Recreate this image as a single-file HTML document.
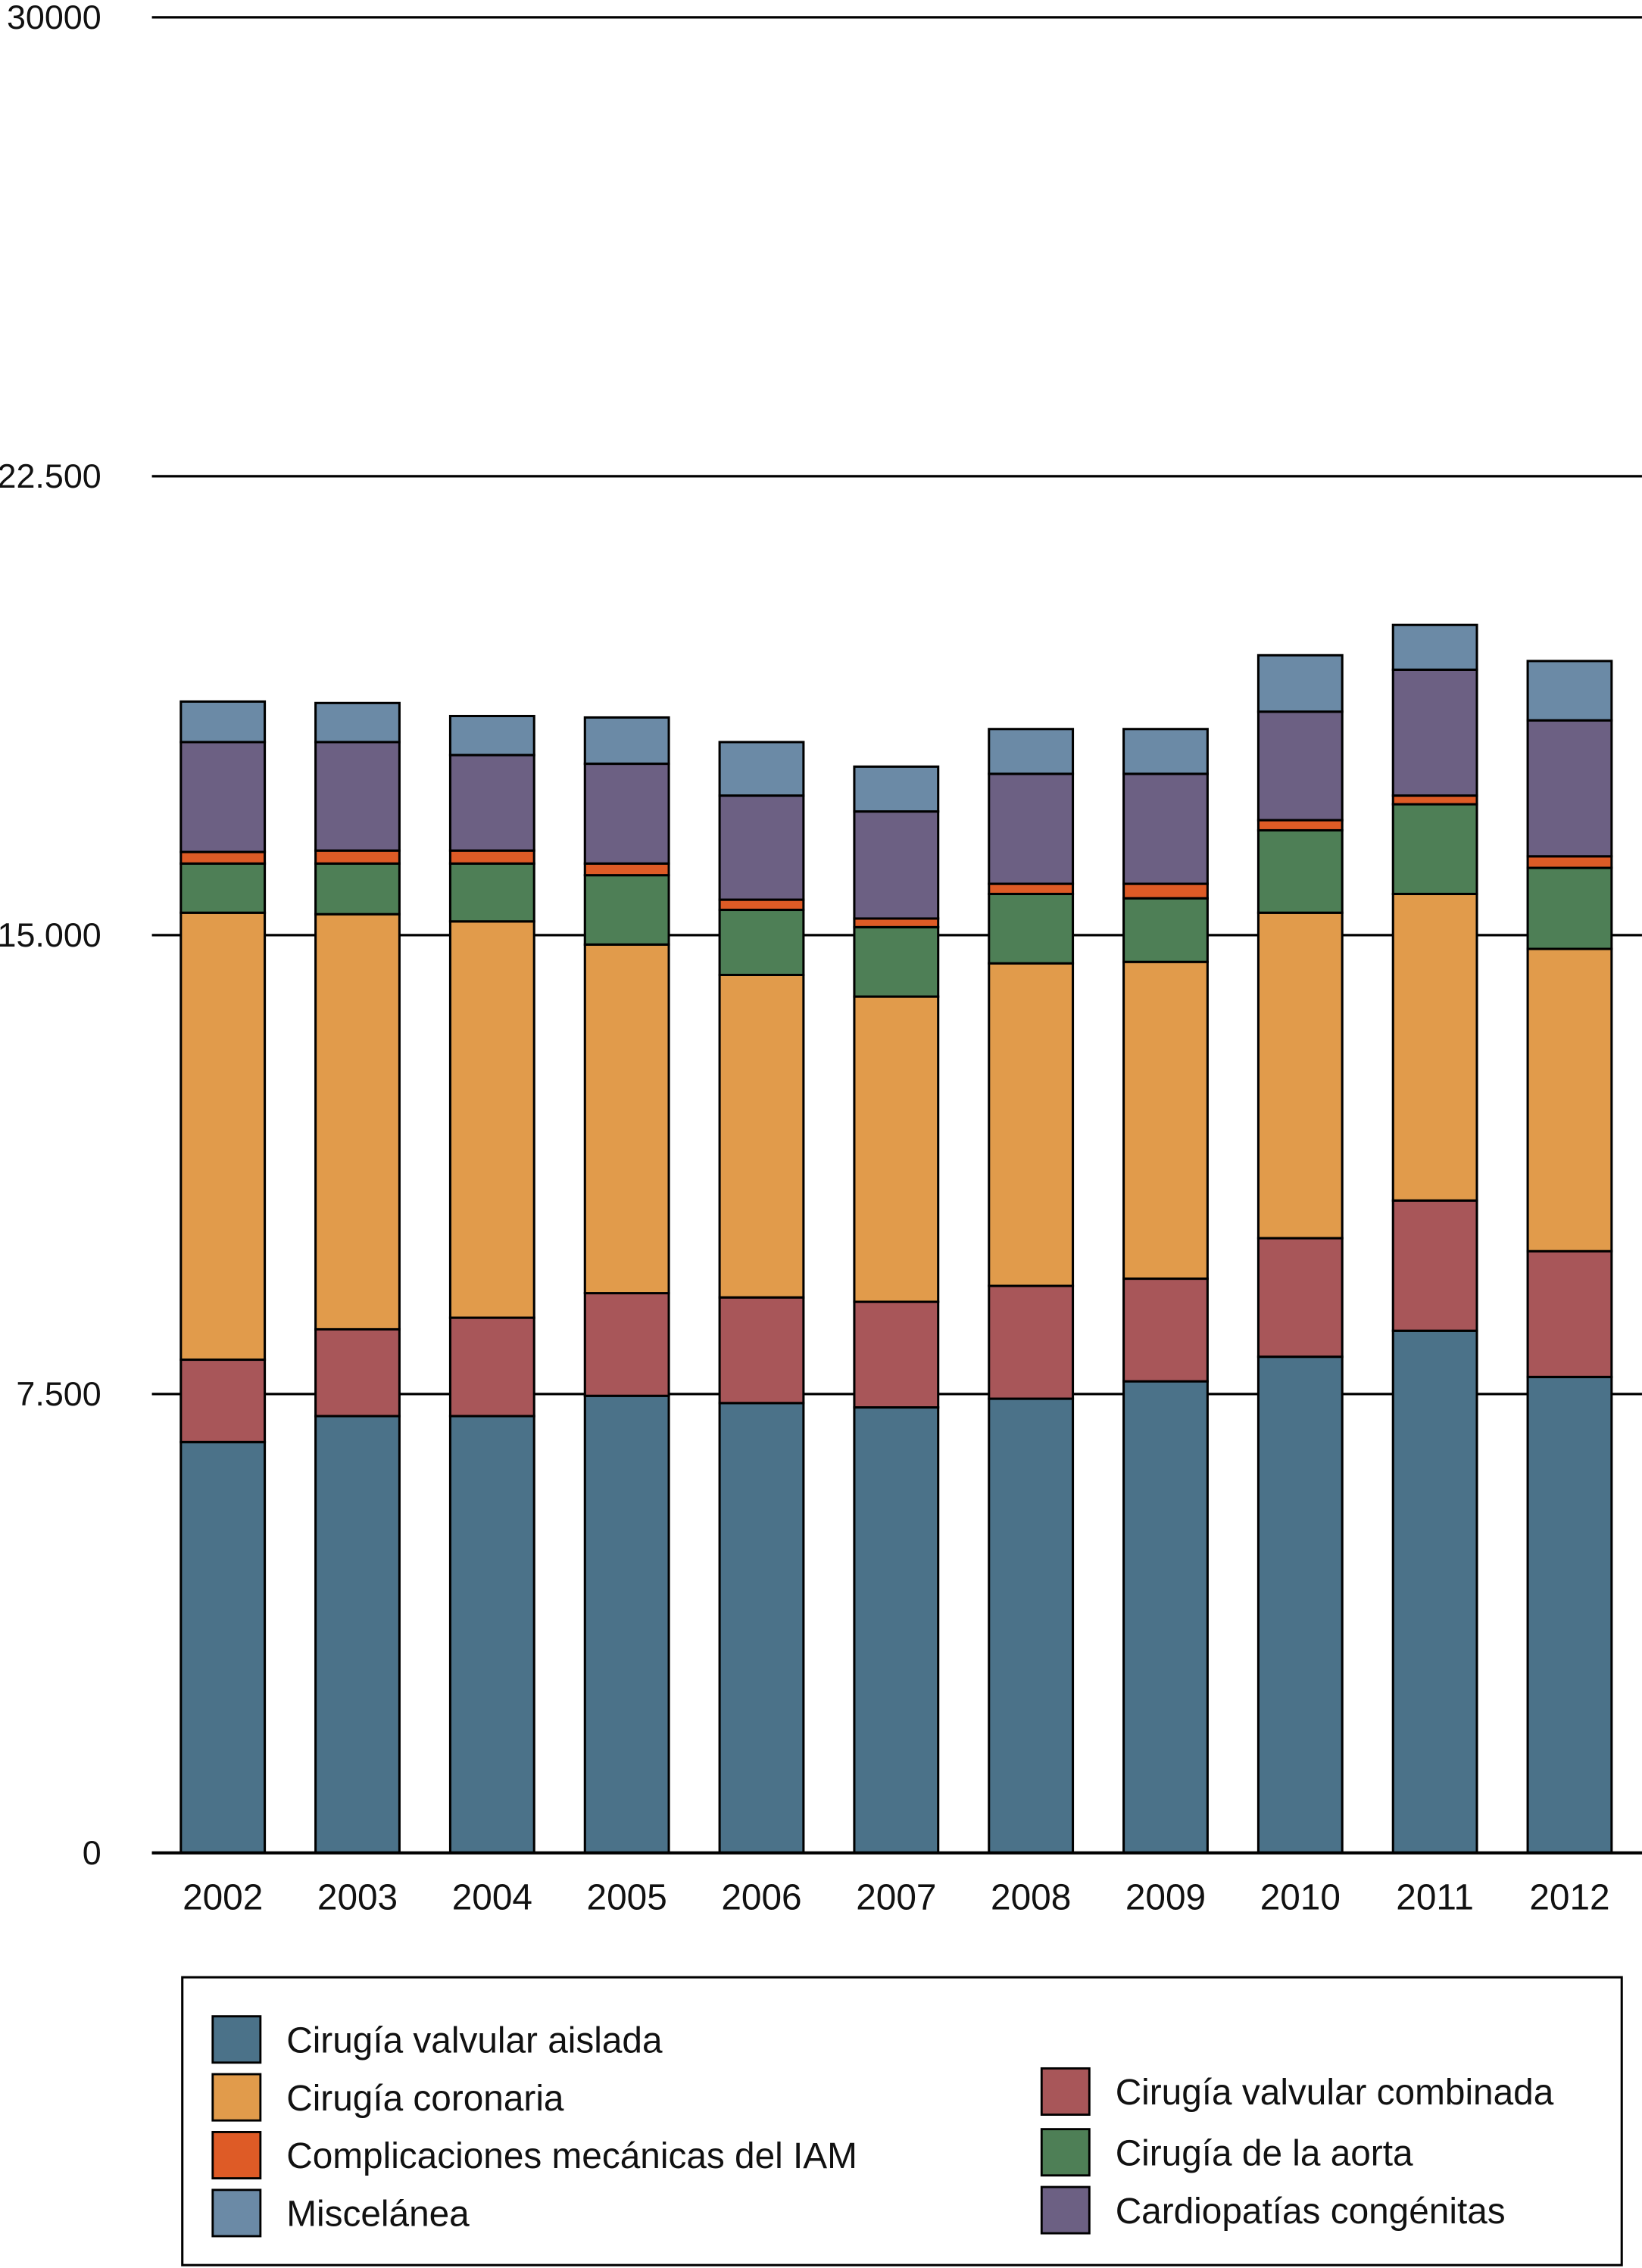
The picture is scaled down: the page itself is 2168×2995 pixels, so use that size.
<!DOCTYPE html>
<html><head><meta charset="utf-8"><style>html,body{margin:0;padding:0;background:#fff}svg{display:block}text{font-family:"Liberation Sans",sans-serif;fill:#111}</style></head>
<body>
<svg id="chart" width="2168" height="2995" viewBox="0 0 1135 1568" xmlns="http://www.w3.org/2000/svg"></svg>
<script>
const years=["2002","2003","2004","2005","2006","2007","2008","2009","2010","2011","2012"];
const valvular=[6714,7139,7139,7470,7352,7281,7423,7707,8109,8534,7778];
const combinada=[1347,1418,1608,1679,1726,1726,1844,1678,1938,2128,2056];
const coronaria=[7305,6785,6477,5697,5271,4988,5272,5177,5319,5011,4941];
const aorta=[804,828,946,1134,1064,1135,1134,1040,1347,1466,1324];
const complicaciones=[189,212,212,190,166,141,166,237,166,142,189];
const congenitas=[1796,1773,1561,1631,1702,1750,1797,1797,1773,2057,2222];
const miscelanea=[662,639,638,756,874,733,732,732,922,732,970];
const tickValues=[0,7500,15000,22500,30000];
const tickLabels=["0","7.500","15.000","22.500","30000"];
const NS="http://www.w3.org/2000/svg";
const svg=document.getElementById('chart');
function y(v){return 1281-v*(1269/30000);}
function x(i){return 125+i*93.1;}
const bw=58;
function mk(tag,attrs,text){const e=document.createElementNS(NS,tag);for(const k in attrs)e.setAttribute(k,attrs[k]);if(text!==undefined)e.textContent=text;svg.appendChild(e);return e;}
tickValues.forEach((v,i)=>{
  const l=mk('line',{x1:105,x2:1135,y1:y(v),y2:y(v),stroke:'#000','stroke-width':1.7});
  
  
  const t=mk('text',{x:70,y:y(v)+8,'text-anchor':'end','font-size':23.5},tickLabels[i]);
  
  
});
const series=[
 {name:'valvular-aislada',data:valvular,color:'#4b7289'},
 {name:'valvular-combinada',data:combinada,color:'#a85659'},
 {name:'coronaria',data:coronaria,color:'#e19b4b'},
 {name:'aorta',data:aorta,color:'#4e7f56'},
 {name:'complicaciones-iam',data:complicaciones,color:'#de5b26'},
 {name:'cardiopatias-congenitas',data:congenitas,color:'#6c6083'},
 {name:'miscelanea',data:miscelanea,color:'#6b8aa6'}
];
years.forEach((yr,i)=>{
  let base=0;
  series.forEach(s=>{
    const v=s.data[i];
    const r=mk('rect',{x:x(i),y:y(base+v),width:bw,height:y(base)-y(base+v),fill:s.color,stroke:'#000','stroke-width':1.6});
    
    
    base+=v;
  });
  const t=mk('text',{x:x(i)+bw/2,y:1320,'text-anchor':'middle','font-size':25},yr);
  
  
});
const axis=mk('line',{x1:105,x2:1135,y1:y(0),y2:y(0),stroke:'#000','stroke-width':2.2});


const box=mk('rect',{x:126,y:1367,width:995,height:199,fill:'none',stroke:'#000','stroke-width':1.6});


const legend=[
 [147,1410,'#4b7289','Cirugía valvular aislada'],
 [147,1450,'#e19b4b','Cirugía coronaria'],
 [147,1490,'#de5b26','Complicaciones mecánicas del IAM'],
 [147,1530,'#6b8aa6','Miscelánea'],
 [720,1446,'#a85659','Cirugía valvular combinada'],
 [720,1488,'#4e7f56','Cirugía de la aorta'],
 [720,1528,'#6c6083','Cardiopatías congénitas']
];
legend.forEach((e,i)=>{
  const r=mk('rect',{x:e[0],y:e[1]-16,width:33,height:32,fill:e[2],stroke:'#000','stroke-width':1.5});
  
  
  const t=mk('text',{x:e[0]+51,y:e[1]+9,'font-size':25},e[3]);
  
  
});
</script>
</body></html>
